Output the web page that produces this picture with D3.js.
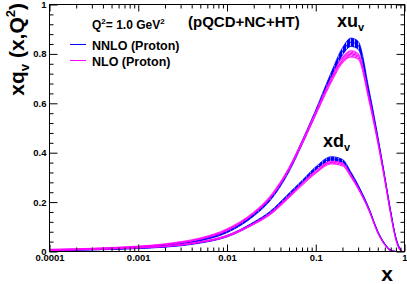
<!DOCTYPE html>
<html>
<head>
<meta charset="utf-8">
<script src="https://cdn.jsdelivr.net/npm/d3@7"></script>
<style>
  html, body { margin: 0; padding: 0; background: #fff; }
  svg { display: block; font-family: "Liberation Sans", Arial, Helvetica, sans-serif; }
</style>
</head>
<body>
<svg id="chart" width="407" height="284"></svg>
<script>
// Sampling points in x (shared by all curves)
const xGrid = [1e-4, 2e-4, 5e-4, 1e-3, 2e-3, 3e-3, 5e-3, 0.01, 0.02, 0.03, 0.05, 0.07,
  0.1, 0.15, 0.2, 0.25, 0.3, 0.4, 0.5, 0.6, 0.7, 0.8, 0.9, 0.95];

// xu_v central values and uncertainties
const xuNNLO = [0.006, 0.008, 0.012, 0.017, 0.025, 0.032, 0.046, 0.080, 0.148, 0.208, 0.330, 0.440,
  0.565, 0.715, 0.810, 0.847, 0.835, 0.640, 0.460, 0.300, 0.160, 0.055, 0.008, 0.0];
const xuNNLOErr = [0.001, 0.001, 0.0015, 0.002, 0.002, 0.003, 0.003, 0.004, 0.005, 0.006, 0.007, 0.008,
  0.009, 0.012, 0.015, 0.017, 0.016, 0.012, 0.008, 0.005, 0.003, 0.002, 0.001, 0.0];
const xuNLO = [0.008, 0.010, 0.015, 0.020, 0.029, 0.037, 0.052, 0.088, 0.156, 0.216, 0.335, 0.440,
  0.560, 0.695, 0.775, 0.800, 0.790, 0.615, 0.445, 0.290, 0.150, 0.048, 0.004, 0.0];
const xuNLOErr = [0.001, 0.001, 0.0015, 0.002, 0.002, 0.003, 0.003, 0.004, 0.004, 0.005, 0.006, 0.007,
  0.008, 0.010, 0.012, 0.013, 0.012, 0.010, 0.007, 0.005, 0.003, 0.002, 0.001, 0.0];

// xd_v central values and uncertainties (null = not drawn)
const xdNNLO = [0.004, 0.006, 0.009, 0.013, 0.019, 0.025, 0.036, 0.062, 0.115, 0.155, 0.230, 0.280,
  0.335, 0.375, 0.365, 0.315, 0.265, 0.170, 0.080, 0.030, 0.005, 0.0, null, null];
const xdNNLOErr = [0.0005, 0.001, 0.001, 0.001, 0.0015, 0.002, 0.002, 0.003, 0.004, 0.005, 0.006, 0.007,
  0.008, 0.009, 0.008, 0.006, 0.005, 0.004, 0.003, 0.002, 0.001, 0.0, null, null];
const xdNLO = [0.005, 0.007, 0.011, 0.015, 0.021, 0.027, 0.038, 0.063, 0.112, 0.150, 0.222, 0.272,
  0.322, 0.360, 0.352, 0.305, 0.257, 0.165, 0.076, 0.027, 0.003, 0.0, null, null];
const xdNLOErr = [0.0005, 0.001, 0.001, 0.001, 0.0015, 0.002, 0.002, 0.003, 0.003, 0.004, 0.005, 0.005,
  0.006, 0.006, 0.006, 0.005, 0.004, 0.003, 0.002, 0.001, 0.001, 0.0, null, null];

// Axis ticks
const xTickValues = [1e-4, 1e-3, 1e-2, 1e-1, 1];
const xTickLabels = ['0.0001', '0.001', '0.01', '0.1', '1'];
const yTickValues = [0, 0.2, 0.4, 0.6, 0.8, 1];
const yTickLabels = ['0', '0.2', '0.4', '0.6', '0.8', '1'];

const NNLO_COLOR = '#0000ff';
const NLO_COLOR = '#ff00ff';

const svg = d3.select('#chart');

// Plot frame
const frame = { left: 49.5, right: 404.5, top: 4.5, bottom: 251.5 };

const x = d3.scaleLog().domain([1e-4, 1]).range([frame.left, frame.right]);
const y = d3.scaleLinear().domain([0, 1]).range([frame.bottom, frame.top]);

// Hatch patterns for the uncertainty bands
const defs = svg.append('defs');

const hatchBlue = defs.append('pattern')
  .attr('id', 'hatch-nnlo')
  .attr('patternUnits', 'userSpaceOnUse')
  .attr('width', 4)
  .attr('height', 4);
hatchBlue.append('rect')
  .attr('width', 4)
  .attr('height', 4)
  .attr('fill', NNLO_COLOR);
hatchBlue.append('line')
  .attr('x1', 2.5).attr('x2', 2.5)
  .attr('y1', 0).attr('y2', 4)
  .attr('stroke', '#fff')
  .attr('stroke-opacity', 0.75);

const hatchPink = defs.append('pattern')
  .attr('id', 'hatch-nlo')
  .attr('patternUnits', 'userSpaceOnUse')
  .attr('width', 3)
  .attr('height', 3)
  .attr('patternTransform', 'rotate(45)');
hatchPink.append('rect')
  .attr('width', 3)
  .attr('height', 3)
  .attr('fill', '#ffb3ff');
hatchPink.append('line')
  .attr('x1', 1).attr('x2', 1)
  .attr('y1', 0).attr('y2', 3)
  .attr('stroke', NLO_COLOR)
  .attr('stroke-width', 1.6);

defs.append('clipPath')
  .attr('id', 'frame-clip')
  .append('rect')
  .attr('x', frame.left)
  .attr('y', frame.top)
  .attr('width', frame.right - frame.left)
  .attr('height', frame.bottom - frame.top);

/**
 * Build point objects for a curve from its value and error arrays
 */
function toPoints(values, errors) {
  return xGrid.map((xv, i) => ({
    x: xv,
    v: values[i],
    lo: values[i] == null ? null : Math.max(0, values[i] - errors[i]),
    hi: values[i] == null ? null : values[i] + errors[i]
  }));
}

const curves = [
  { name: 'xuNNLO', color: NNLO_COLOR, fill: 'url(#hatch-nnlo)', points: toPoints(xuNNLO, xuNNLOErr) },
  { name: 'xdNNLO', color: NNLO_COLOR, fill: 'url(#hatch-nnlo)', points: toPoints(xdNNLO, xdNNLOErr) },
  { name: 'xuNLO', color: NLO_COLOR, fill: 'url(#hatch-nlo)', points: toPoints(xuNLO, xuNLOErr) },
  { name: 'xdNLO', color: NLO_COLOR, fill: 'url(#hatch-nlo)', points: toPoints(xdNLO, xdNLOErr) }
];

const band = d3.area()
  .defined(d => d.v != null)
  .x(d => x(d.x))
  .y0(d => y(d.lo))
  .y1(d => y(d.hi))
  .curve(d3.curveMonotoneX);

const lineOf = key => d3.line()
  .defined(d => d.v != null)
  .x(d => x(d.x))
  .y(d => y(d[key]))
  .curve(d3.curveMonotoneX);

const dataGroup = svg.append('g').attr('clip-path', 'url(#frame-clip)');

curves.forEach(c => {
  dataGroup.append('path')
    .attr('class', 'band ' + c.name)
    .attr('d', band(c.points))
    .attr('fill', c.fill);
  ['lo', 'v', 'hi'].forEach(key => {
    dataGroup.append('path')
      .attr('class', 'line ' + c.name)
      .attr('d', lineOf(key)(c.points))
      .attr('fill', 'none')
      .attr('stroke', c.color)
      .attr('stroke-width', key === 'v' ? 1 : 0.8);
  });
});

// Minor tick positions
const xMinor = [];
[1e-4, 1e-3, 1e-2, 1e-1].forEach(d => {
  for (let k = 2; k <= 9; k++) xMinor.push(k * d);
});
const yMinor = d3.range(0, 1.0001, 0.04).filter(v => Math.abs(v / 0.2 - Math.round(v / 0.2)) > 1e-6);

/**
 * Draw an axis with inward ticks; labels optional
 */
function drawAxis(axisFn, scale, pos, values, size, labels) {
  const axis = axisFn(scale)
    .tickValues(values)
    .tickSizeInner(-size)
    .tickSizeOuter(0)
    .tickPadding(3)
    .tickFormat(labels ? (d, i) => labels[i] : '');
  const g = svg.append('g')
    .attr('transform', pos)
    .call(axis);
  g.select('.domain').remove();
  g.selectAll('line').attr('stroke', '#000');
  g.selectAll('text')
    .attr('font-family', '"Liberation Sans", Arial, sans-serif')
    .attr('font-weight', 'bold')
    .attr('font-size', '9.5px')
    .attr('fill', '#000');
  return g;
}

drawAxis(d3.axisBottom, x, `translate(0,${frame.bottom})`, xTickValues, 7, xTickLabels);
drawAxis(d3.axisBottom, x, `translate(0,${frame.bottom})`, xMinor, 4, null);
drawAxis(d3.axisTop, x, `translate(0,${frame.top})`, xTickValues, 7, null);
drawAxis(d3.axisTop, x, `translate(0,${frame.top})`, xMinor, 4, null);
drawAxis(d3.axisLeft, y, `translate(${frame.left},0)`, yTickValues, 8, yTickLabels);
drawAxis(d3.axisLeft, y, `translate(${frame.left},0)`, yMinor, 4, null);
drawAxis(d3.axisRight, y, `translate(${frame.right},0)`, yTickValues, 8, null);
drawAxis(d3.axisRight, y, `translate(${frame.right},0)`, yMinor, 4, null);

// Frame
svg.append('rect')
  .attr('x', frame.left)
  .attr('y', frame.top)
  .attr('width', frame.right - frame.left)
  .attr('height', frame.bottom - frame.top)
  .attr('fill', 'none')
  .attr('stroke', '#000');

// Axis titles
const yTitle = svg.append('text')
  .attr('transform', 'translate(24,3) rotate(-90)')
  .attr('text-anchor', 'end')
  .attr('font-weight', 'bold')
  .attr('font-size', '21px');
yTitle.append('tspan').text('xq');
yTitle.append('tspan').attr('font-size', '13px').attr('dy', 5).text('v');
yTitle.append('tspan').attr('dy', -5).text(' (x,Q');
yTitle.append('tspan').attr('font-size', '13px').attr('dy', -9).text('2');
yTitle.append('tspan').attr('dy', 9).text(')');

svg.append('text')
  .attr('x', 393)
  .attr('y', 280.5)
  .attr('text-anchor', 'end')
  .attr('font-weight', 'bold')
  .attr('font-size', '21px')
  .text('x');

// Header texts
const qText = svg.append('text')
  .attr('x', 92)
  .attr('y', 29)
  .attr('font-weight', 'bold')
  .attr('font-size', '12px');
qText.append('tspan').text('Q');
qText.append('tspan').attr('font-size', '8px').attr('dy', -5).text('2');
qText.append('tspan').attr('dy', 5).text('= 1.0 GeV');
qText.append('tspan').attr('font-size', '8px').attr('dy', -5).text('2');

svg.append('text')
  .attr('x', 188)
  .attr('y', 27)
  .attr('font-weight', 'bold')
  .attr('font-size', '15px')
  .text('(pQCD+NC+HT)');

// Curve labels
const curveLabels = [
  { main: 'xu', x: 337, y: 27 },
  { main: 'xd', x: 323, y: 147 }
];
curveLabels.forEach(l => {
  const t = svg.append('text')
    .attr('x', l.x)
    .attr('y', l.y)
    .attr('font-weight', 'bold')
    .attr('font-size', '18px');
  t.append('tspan').text(l.main);
  t.append('tspan').attr('font-size', '11px').attr('dy', 4).text('v');
});

// Legend
const legendItems = [
  { label: 'NNLO (Proton)', color: NNLO_COLOR, y: 44.5 },
  { label: 'NLO (Proton)', color: NLO_COLOR, y: 60.5 }
];
const legend = svg.append('g').attr('class', 'legend');
legendItems.forEach(item => {
  legend.append('line')
    .attr('x1', 70)
    .attr('x2', 86)
    .attr('y1', item.y)
    .attr('y2', item.y)
    .attr('stroke', item.color)
    .attr('stroke-width', 1);
  legend.append('text')
    .attr('x', 92)
    .attr('y', item.y + 5)
    .attr('font-weight', 'bold')
    .attr('font-size', '12.5px')
    .text(item.label);
});
</script>
</body>
</html>
